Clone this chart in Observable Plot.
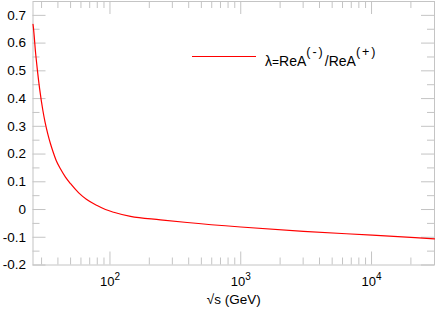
<!DOCTYPE html>
<html><head><meta charset="utf-8">
<script src="https://cdn.jsdelivr.net/npm/d3@7"></script>
<script src="https://cdn.jsdelivr.net/npm/@observablehq/plot@0.6"></script>
<style>
body{margin:0;background:#fff;}
#wrap{position:relative;width:436px;height:309px;font-family:"Liberation Sans",Arial,sans-serif;color:#000;}
#legline{position:absolute;left:192px;top:55.5px;width:64px;height:0;border-top:1px solid #ff0000;}
#legtext{position:absolute;left:265px;top:53px;font-size:14px;line-height:16px;white-space:nowrap;}
#legtext .sp{position:relative;top:-10px;font-size:12.5px;letter-spacing:2px;}
#legtext .eq{font-size:12px;}
</style>
</head><body>
<div id="wrap"></div>
<script>
// data
const sqrtS  = [25.8, 26.0, 27.0, 27.9, 29.0, 30.7, 31.9, 33.5, 35.1, 36.6, 38.8, 41.8, 45.7, 50.0, 57.7, 66.0, 79.8, 92.4, 106.9, 143.5, 243.4, 389.4, 1000, 3020, 10120, 30300];
const lambda = [0.668, 0.655, 0.565, 0.501, 0.435, 0.357, 0.315, 0.272, 0.237, 0.210, 0.177, 0.147, 0.117, 0.093, 0.060, 0.037, 0.0145, 0.000, -0.010, -0.025, -0.037, -0.0467, -0.063, -0.0785, -0.0925, -0.1055];
const xMajor = [100, 1000, 10000];
const xExponents = ["2", "3", "4"];
const xMinor = [30,40,50,60,70,80,90,200,300,400,500,600,700,800,900,2000,3000,4000,5000,6000,7000,8000,9000,20000];
const yMajor = [-0.2,-0.1,0,0.1,0.2,0.3,0.4,0.5,0.6,0.7];
const yTickLabels = ["-0.2","-0.1","0","0.1","0.2","0.3","0.4","0.5","0.6","0.7"];
const yMinor = [-0.15,-0.05,0.05,0.15,0.25,0.35,0.45,0.55,0.65];
const xLabel = "\u221As (GeV)";
const seriesName = "λ=ReA(-)/ReA(+)";

const W=436, H=309, ML=32.5, MR=2, MT=1, MB=44.5;
const FW=W-ML-MR, FH=H-MT-MB;
const gray="#c4c4c4";
const data = sqrtS.map((x,i)=>({x, y: lambda[i]}));

const plot = Plot.plot({
  width:W, height:H, marginLeft:ML, marginRight:MR, marginTop:MT, marginBottom:MB,
  style:{fontFamily:'"Liberation Sans", Arial, sans-serif', fontSize:"13px", background:"#fff", color:"#000"},
  x:{type:"log", domain:[25.8,30300]},
  y:{domain:[-0.2,0.75]},
  marks:[
    Plot.tickX(xMajor,{x:d=>d, insetTop:FH-13, stroke:gray}),
    Plot.tickX(xMajor,{x:d=>d, insetBottom:FH-13, stroke:gray}),
    Plot.tickX(xMinor,{x:d=>d, insetTop:FH-7, stroke:gray}),
    Plot.tickX(xMinor,{x:d=>d, insetBottom:FH-7, stroke:gray}),
    Plot.tickY(yMajor,{y:d=>d, insetRight:FW-13, stroke:gray}),
    Plot.tickY(yMajor,{y:d=>d, insetLeft:FW-13, stroke:gray}),
    Plot.tickY(yMinor,{y:d=>d, insetRight:FW-7, stroke:gray}),
    Plot.tickY(yMinor,{y:d=>d, insetLeft:FW-7, stroke:gray}),
    Plot.frame({stroke:gray}),
    Plot.axisY(yMajor,{tickSize:0, tickPadding:7, fontSize:13.5, tickFormat:d=>yTickLabels[yMajor.indexOf(d)], label:null}),
    Plot.axisX(xMajor,{tickSize:0, tickPadding:11.5, fontSize:13, tickFormat:()=>"10", label:null}),
    Plot.text([xLabel],{frameAnchor:"bottom", text:d=>d, dy:35, lineAnchor:"middle", fontSize:13.5}),
    Plot.line(data,{x:"x", y:"y", stroke:"#ff0000", strokeWidth:1.2, curve:"monotone-x"})
  ]
});
d3.select(plot).selectAll('g[aria-label="x-axis tick label"] text').each(function(d,i){
  d3.select(this).append("tspan").attr("dy","-6").attr("font-size","10").text(xExponents[i]);
});
const wrap = document.getElementById("wrap");
wrap.appendChild(plot);
const ll = document.createElement("div"); ll.id="legline"; wrap.appendChild(ll);
const lt = document.createElement("div"); lt.id="legtext";
const m = seriesName.match(/^(λ)(=)(ReA)(\(-\))(\/ReA)(\(\+\))$/);
lt.innerHTML = `${m[1]}<span class="eq">${m[2]}</span>${m[3]}<span class="sp">${m[4]}</span>${m[5]}<span class="sp">${m[6]}</span>`;
wrap.appendChild(lt);
</script>
</body></html>
